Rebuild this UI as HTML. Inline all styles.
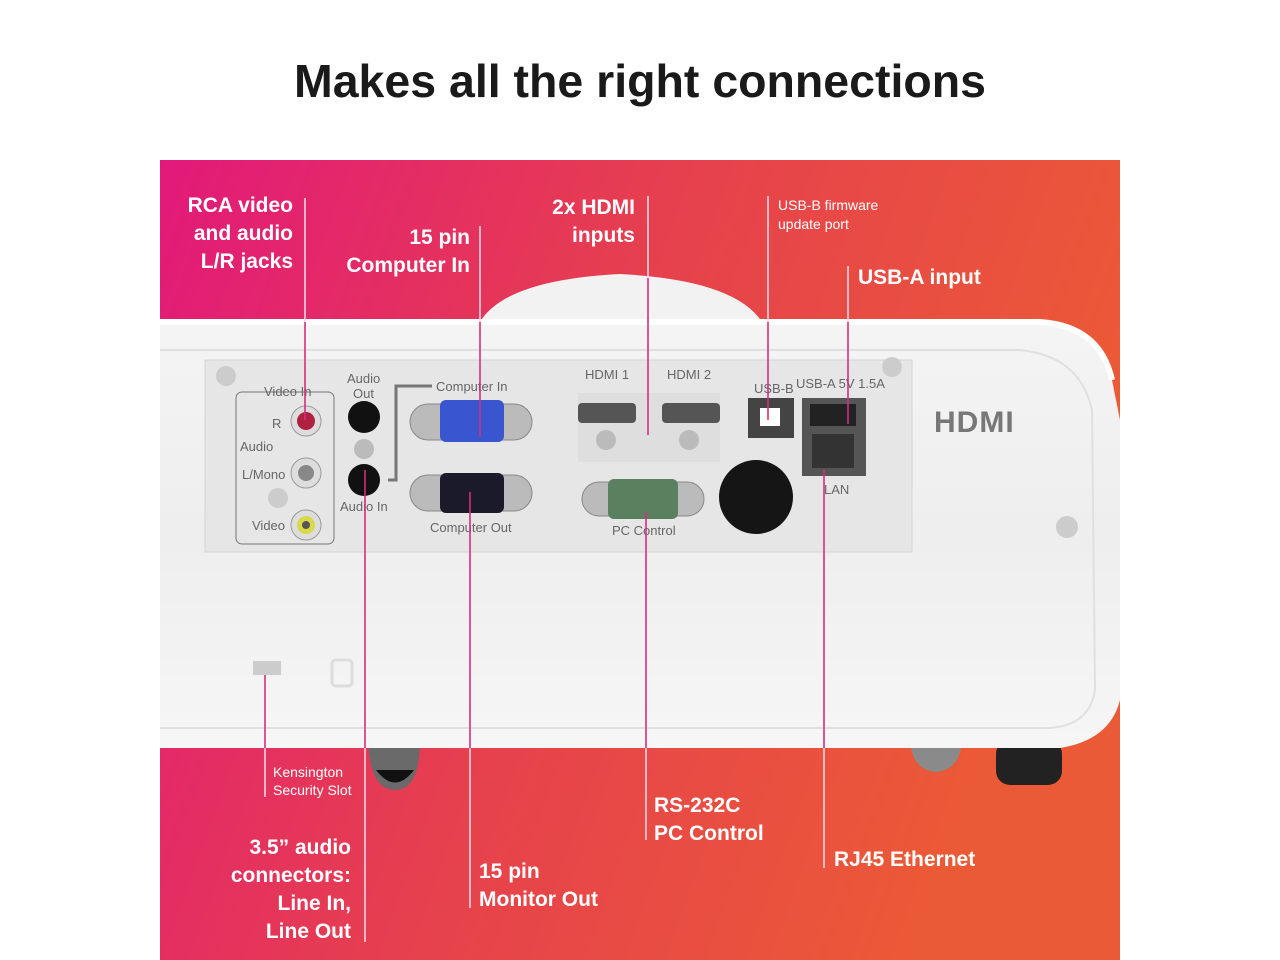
<!DOCTYPE html>
<html><head><meta charset="utf-8"><style>
html,body{margin:0;padding:0;background:#fff;width:1280px;height:960px;overflow:hidden}
svg{display:block}
.t{font-family:"Liberation Sans",sans-serif;fill:#fff;font-weight:bold}
.s{font-family:"Liberation Sans",sans-serif;fill:#fff}
.p{font-family:"Liberation Sans",sans-serif;fill:#666;font-size:13px}
</style></head><body>
<svg width="1280" height="960" viewBox="0 0 1280 960" xmlns="http://www.w3.org/2000/svg">
<defs>
<linearGradient id="g" x1="0" y1="0" x2="1" y2="0.3">
<stop offset="0" stop-color="#e2197a"/><stop offset="0.5" stop-color="#e6404e"/><stop offset="1" stop-color="#eb5a36"/>
</linearGradient>
<linearGradient id="body" x1="0" y1="0" x2="0" y2="1">
<stop offset="0" stop-color="#f4f4f4"/><stop offset="0.5" stop-color="#eeeeee"/><stop offset="1" stop-color="#f6f6f6"/>
</linearGradient>
</defs>
<text x="640" y="97" text-anchor="middle" font-family="Liberation Sans,sans-serif" font-weight="bold" font-size="46" fill="#1a1a1a" textLength="692" lengthAdjust="spacingAndGlyphs">Makes all the right connections</text>
<rect x="160" y="160" width="960" height="800" fill="url(#g)"/>
<!-- lens dome -->
<path d="M480 322 Q505 280 620 274 Q735 280 762 322 Z" fill="#f2f2f2"/>
<!-- feet -->
<path d="M368 740 L420 740 Q420 790 395 790 Q370 790 368 740Z" fill="#6a6a6a"/>
<path d="M376 770 Q395 795 414 770Z" fill="#111"/>
<path d="M910 740 L962 740 Q960 770 936 772 Q912 770 910 740Z" fill="#8a8a8a"/>
<rect x="996" y="740" width="66" height="45" rx="14" fill="#222"/>
<!-- body -->
<path d="M160 322 L1040 322 Q1100 326 1112 380 L1120 420 L1120 700 Q1110 740 1060 748 L160 748 Z" fill="url(#body)"/>
<path d="M160 322 L1040 322 Q1100 326 1112 380" fill="none" stroke="#fff" stroke-width="6"/>
<path d="M160 350 L1020 350 Q1080 356 1092 410 L1095 690 Q1090 725 1050 728 L160 728" fill="none" stroke="#e0e0e0" stroke-width="2"/>
<!-- port panel -->
<rect x="205" y="360" width="707" height="192" fill="#e6e6e6" stroke="#d4d4d4"/>
<rect x="236" y="392" width="98" height="152" rx="6" fill="none" stroke="#777"/>
<text class="p" x="264" y="396">Video In</text>
<text class="p" x="272" y="428">R</text><text class="p" x="240" y="451">Audio</text>
<text class="p" x="242" y="479">L/Mono</text><text class="p" x="252" y="530">Video</text>
<circle cx="306" cy="421" r="15" fill="#ddd" stroke="#999"/><circle cx="306" cy="421" r="9" fill="#b02040"/>
<circle cx="306" cy="473" r="15" fill="#ddd" stroke="#999"/><circle cx="306" cy="473" r="8" fill="#888"/>
<circle cx="306" cy="525" r="15" fill="#ddd" stroke="#999"/><circle cx="306" cy="525" r="9" fill="#d8d84a"/><circle cx="306" cy="525" r="4" fill="#555"/>
<circle cx="278" cy="498" r="10" fill="#ccc"/><circle cx="226" cy="376" r="10" fill="#ccc"/><circle cx="892" cy="367" r="10" fill="#ccc"/>
<text class="p" x="347" y="383">Audio</text><text class="p" x="353" y="398">Out</text>
<circle cx="364" cy="417" r="16" fill="#111"/><circle cx="364" cy="449" r="10" fill="#bbb"/><circle cx="364" cy="480" r="16" fill="#111"/>
<text class="p" x="340" y="511">Audio In</text>
<path d="M388 480 L396 480 L396 386 L432 386" fill="none" stroke="#777" stroke-width="3"/>
<text class="p" x="436" y="391">Computer In</text>
<rect x="410" y="404" width="122" height="36" rx="18" fill="#bbb" stroke="#888"/>
<rect x="440" y="400" width="64" height="42" rx="6" fill="#3a55d0"/>
<rect x="410" y="475" width="122" height="36" rx="18" fill="#bbb" stroke="#888"/>
<rect x="440" y="473" width="64" height="40" rx="6" fill="#1a1a2a"/>
<text class="p" x="430" y="532">Computer Out</text>
<path d="M578 393 L720 393 L720 462 L578 462 Z" fill="#dedede"/>
<text class="p" x="585" y="379">HDMI 1</text><text class="p" x="667" y="379">HDMI 2</text>
<rect x="578" y="403" width="58" height="20" rx="4" fill="#555"/><rect x="662" y="403" width="58" height="20" rx="4" fill="#555"/>
<circle cx="606" cy="440" r="10" fill="#bbb"/><circle cx="689" cy="440" r="10" fill="#bbb"/>
<rect x="582" y="482" width="122" height="34" rx="17" fill="#bbb" stroke="#888"/>
<rect x="608" y="479" width="70" height="40" rx="6" fill="#5a8060"/>
<text class="p" x="612" y="535">PC Control</text>
<circle cx="756" cy="497" r="37" fill="#151515"/>
<text class="p" x="754" y="393">USB-B</text><text class="p" x="796" y="388">USB-A 5V 1.5A</text>
<rect x="748" y="398" width="46" height="40" fill="#444"/><rect x="760" y="408" width="20" height="18" fill="#fff"/>
<rect x="802" y="398" width="64" height="78" fill="#555"/><rect x="810" y="404" width="46" height="22" fill="#222"/><rect x="812" y="434" width="42" height="34" fill="#333"/>
<text class="p" x="824" y="494">LAN</text>
<text x="934" y="432" font-family="Liberation Sans,sans-serif" font-weight="bold" font-size="30" fill="#777" letter-spacing="1">HDMI</text>
<circle cx="1067" cy="527" r="11" fill="#ccc"/>
<rect x="253" y="661" width="28" height="14" fill="#ccc"/>
<rect x="332" y="660" width="20" height="26" rx="4" fill="none" stroke="#ddd" stroke-width="3"/>
<!-- lines -->
<g stroke-width="1.6">
<line x1="305" y1="198" x2="305" y2="322" stroke="#f6d4e4"/><line x1="305" y1="322" x2="305" y2="420" stroke="#d52f7a"/>
<line x1="480" y1="226" x2="480" y2="322" stroke="#f6d4e4"/><line x1="480" y1="322" x2="480" y2="437" stroke="#d52f7a"/>
<line x1="648" y1="196" x2="648" y2="278" stroke="#f6d4e4"/><line x1="648" y1="278" x2="648" y2="435" stroke="#d52f7a"/>
<line x1="768" y1="196" x2="768" y2="322" stroke="#f6d4e4"/><line x1="768" y1="322" x2="768" y2="420" stroke="#d52f7a"/>
<line x1="848" y1="266" x2="848" y2="322" stroke="#f6d4e4"/><line x1="848" y1="322" x2="848" y2="424" stroke="#d52f7a"/>
<line x1="265" y1="675" x2="265" y2="748" stroke="#d52f7a"/><line x1="265" y1="748" x2="265" y2="797" stroke="#f6d4e4"/>
<line x1="365" y1="470" x2="365" y2="748" stroke="#d52f7a"/><line x1="365" y1="748" x2="365" y2="942" stroke="#f6d4e4"/>
<line x1="470" y1="492" x2="470" y2="748" stroke="#d52f7a"/><line x1="470" y1="748" x2="470" y2="908" stroke="#f6d4e4"/>
<line x1="646" y1="512" x2="646" y2="748" stroke="#d52f7a"/><line x1="646" y1="748" x2="646" y2="840" stroke="#f6d4e4"/>
<line x1="824" y1="470" x2="824" y2="748" stroke="#d52f7a"/><line x1="824" y1="748" x2="824" y2="868" stroke="#f6d4e4"/>
</g>
<!-- labels -->
<g class="t" font-size="21" text-anchor="end">
<text x="293" y="212">RCA video</text><text x="293" y="240">and audio</text><text x="293" y="268">L/R jacks</text>
<text x="470" y="244">15 pin</text><text x="470" y="272">Computer In</text>
<text x="635" y="214">2x HDMI</text><text x="635" y="242">inputs</text>
<text x="351" y="854">3.5” audio</text><text x="351" y="882">connectors:</text><text x="351" y="910">Line In,</text><text x="351" y="938">Line Out</text>
</g>
<g class="t" font-size="21">
<text x="858" y="284">USB-A input</text>
<text x="479" y="878">15 pin</text><text x="479" y="906">Monitor Out</text>
<text x="654" y="812">RS-232C</text><text x="654" y="840">PC Control</text>
<text x="834" y="866">RJ45 Ethernet</text>
</g>
<g class="s" font-size="14">
<text x="778" y="210">USB-B firmware</text><text x="778" y="229">update port</text>
<text x="273" y="777">Kensington</text><text x="273" y="795">Security Slot</text>
</g>
</svg>
</body></html>
